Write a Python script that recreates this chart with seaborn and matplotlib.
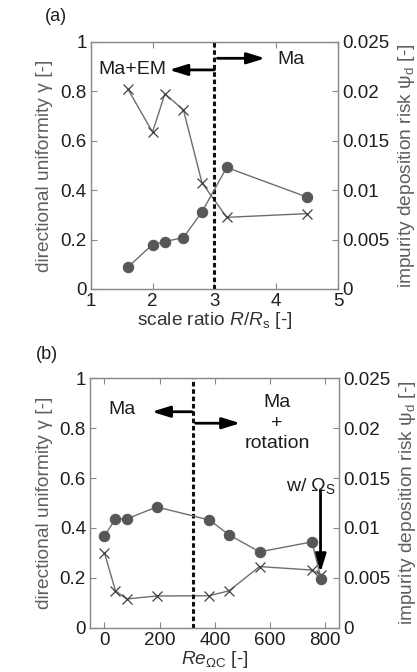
import matplotlib
matplotlib.use('Agg')
import matplotlib.pyplot as plt
import seaborn as sns
import pandas as pd

sns.set_theme(style='ticks')
plt.rcParams['font.family'] = ['Liberation Sans', 'DejaVu Sans']
plt.rcParams['mathtext.fontset'] = 'custom'
plt.rcParams['mathtext.rm'] = 'Liberation Sans'
plt.rcParams['mathtext.it'] = 'Liberation Sans:italic'
plt.rcParams['mathtext.bf'] = 'Liberation Sans:bold'

# ---- data panel (a) ----
ratio_a = [1.6, 2.0, 2.2, 2.5, 2.8, 3.2, 4.5]
gamma_a = [0.81, 0.635, 0.79, 0.725, 0.43, 0.29, 0.305]
psi_a = [0.0022, 0.0045, 0.0048, 0.0052, 0.0078, 0.0123, 0.0093]

# ---- data panel (b) ----
re_b = [0, 40, 80, 190, 380, 452, 562, 752, 785]
gamma_b = [0.30, 0.148, 0.115, 0.127, 0.128, 0.148, 0.245, 0.231, 0.21]
psi_b = [0.0092, 0.0109, 0.0109, 0.0121, 0.0108, 0.0093, 0.0076, 0.0086, 0.0049]

left_ticks = [0, 0.2, 0.4, 0.6, 0.8, 1.0]
left_labels = ['0', '0.2', '0.4', '0.6', '0.8', '1']
right_ticks = [0, 0.005, 0.01, 0.015, 0.02, 0.025]
right_labels = ['0', '0.005', '0.01', '0.015', '0.02', '0.025']

LINE = '#6e6e6e'
MARK = '#575757'
SPINE = '#8a8a8a'
TXT = '#1e1e1e'
LAB = '#5e5e5e'
TICKFS = 13.5
LABFS = 13.8
ANNFS = 14

fig = plt.figure(figsize=(4.17, 6.72), dpi=100)
axA = fig.add_axes([0.2175, 0.570, 0.593, 0.3675])
axB = fig.add_axes([0.216, 0.066, 0.597, 0.371])


def style(ax, ax2):
    for a in (ax, ax2):
        for s in a.spines.values():
            s.set_color(SPINE)
            s.set_linewidth(0.9)
        a.tick_params(direction='in', length=4, width=0.8, color=SPINE,
                      labelsize=TICKFS, labelcolor=TXT, pad=3)
    ax.tick_params(top=True, labeltop=False)
    ax.set_ylim(0, 1)
    ax.set_yticks(left_ticks)
    ax.set_yticklabels(left_labels)
    ax2.set_ylim(0, 0.025)
    ax2.set_yticks(right_ticks)
    ax2.set_yticklabels(right_labels)
    ax.set_ylabel('directional uniformity γ [-]', fontsize=LABFS, color=LAB, labelpad=5)
    ax2.set_ylabel(r'impurity deposition risk ψ$_\mathrm{d}$ [-]', fontsize=LABFS,
                   color=LAB, labelpad=5)


def draw(ax, x, g, p):
    ax2 = ax.twinx()
    dfg = pd.DataFrame({'x': x, 'y': g})
    dfp = pd.DataFrame({'x': x, 'y': p})
    sns.lineplot(data=dfg, x='x', y='y', ax=ax, sort=False, color=LINE, lw=1.0,
                 marker='x', markersize=6.5, markeredgewidth=0.9,
                 markeredgecolor='#404040', zorder=3)
    sns.lineplot(data=dfp, x='x', y='y', ax=ax2, sort=False, color=LINE, lw=1.0,
                 marker='o', markersize=7.5, markerfacecolor=MARK,
                 markeredgecolor=MARK, zorder=3)
    return ax2


# ---- panel (a) ----
axA2 = draw(axA, ratio_a, gamma_a, psi_a)
style(axA, axA2)
axA.set_xlim(1, 5)
axA.set_xticks([1, 2, 3, 4, 5])
axA.set_xlabel(r'scale ratio $R$/$R_\mathrm{s}$ [-]', fontsize=LABFS, color='#333333', labelpad=0)
axA.axvline(3, color='#111111', lw=2.2, ls=(0, (1.5, 0.9)), zorder=4)
arrow = dict(arrowstyle='-|>,head_length=0.9,head_width=0.28', lw=2.0, color='black',
             shrinkA=0, shrinkB=0)
axA.annotate('', xy=(2.27, 0.887), xytext=(3.0, 0.887), arrowprops=arrow)
axA.annotate('', xy=(3.82, 0.934), xytext=(3.05, 0.934), arrowprops=arrow)
axA.text(1.13, 0.89, 'Ma+EM', fontsize=ANNFS, color=TXT, va='center', ha='left')
axA.text(4.02, 0.93, 'Ma', fontsize=ANNFS, color=TXT, va='center', ha='left')
fig.text(0.107, 0.975, '(a)', fontsize=13, color=TXT, va='center', ha='left')

# ---- panel (b) ----
axB2 = draw(axB, re_b, gamma_b, psi_b)
style(axB, axB2)
axB.set_xlim(-52, 850)
axB.set_xticks([0, 200, 400, 600, 800])
axB.set_xlabel(r'$Re_{\Omega\mathrm{C}}$ [-]', fontsize=LABFS, color='#333333', labelpad=0)
axB.axvline(320, color='#111111', lw=2.2, ls=(0, (1.5, 0.9)), zorder=4)
axB.annotate('', xy=(172, 0.866), xytext=(318, 0.866), arrowprops=arrow)
axB.annotate('', xy=(492, 0.82), xytext=(330, 0.82), arrowprops=arrow)
axB.text(65, 0.877, 'Ma', fontsize=ANNFS, color=TXT, va='center', ha='center')
axB.text(625, 0.82, 'Ma\n+\nrotation', fontsize=ANNFS, color=TXT, va='center',
         ha='center', linespacing=1.25)
axB.text(840, 0.568, r'w/ $\Omega_\mathrm{S}$', fontsize=ANNFS, color=TXT, va='center', ha='right')
axB.annotate('', xy=(783, 0.222), xytext=(783, 0.55),
             arrowprops=dict(arrowstyle='-|>,head_length=0.9,head_width=0.28', lw=2.0,
                             color='black', shrinkA=0, shrinkB=0), zorder=6)
fig.text(0.087, 0.472, '(b)', fontsize=13, color=TXT, va='center', ha='left')

fig.savefig('out.png', dpi=100)
